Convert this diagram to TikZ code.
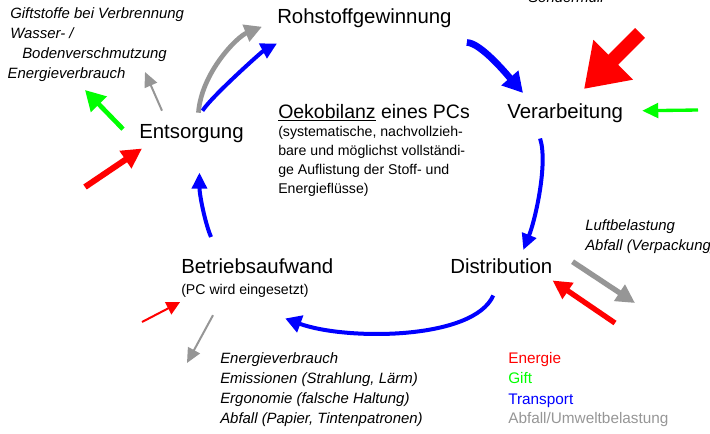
\documentclass[tikz,border=0pt]{standalone}
\usepackage{fontspec}
\setmainfont{Liberation Sans}
\usetikzlibrary{arrows.meta}
\definecolor{ashgray}{RGB}{150,150,150}

\begin{document}
\begin{tikzpicture}[x=0.75pt, y=-0.75pt,
    stage/.style  = {anchor=base west, inner sep=0pt, font=\fontsize{15.3}{18}\selectfont},
    note/.style   = {anchor=base west, inner sep=0pt, align=left, font=\fontsize{10.6}{14.25}\selectfont},
    remark/.style = {anchor=base west, inner sep=0pt, align=left, font=\fontsize{11.2}{15}\selectfont\itshape},
    legend/.style = {anchor=base west, inner sep=0pt, font=\fontsize{11.5}{15}\selectfont},
    fat/.style    = {line width=4pt, -{Triangle[length=14pt,width=14pt]}},
    thin/.style   = {line width=1.5pt, -{Triangle[length=11pt,width=10pt]}}]
    \path[clip] (0,0) rectangle (710,433);
    % stations of the life cycle
    \node (Roh) at (277,23) [stage] {Rohstoffgewinnung};
    \node (Ver) at (507,118) [stage] {Verarbeitung};
    \node (Dis) at (450,273) [stage] {Distribution};
    \node (Bet) at (181,273) [stage] {Betriebsaufwand};
    \node (BetSub) at (181,294) [note] {(PC wird eingesetzt)};
    \node (Ent) at (139,138) [stage] {Entsorgung};
    \node (Oeko) at (278,118) [stage, font=\fontsize{14.6}{18}\selectfont] {\underline{Oekobilanz} eines PCs};
    \node (OekoSub) at (278,193) [note] {(systematische, nachvollzieh-\\bare und möglichst vollständi-\\ge Auflistung der Stoff- und\\Energieflüsse)};
    % remarks (placed at the baseline of their last line)
    \node (EntRem) at (10,78) [remark] {Giftstoffe bei Verbrennung\\Wasser- /\\\hspace*{9pt}Bodenverschmutzung\\\hspace*{-2pt}Energieverbrauch};
    \node (VerRem) at (528,2) [remark] {Sondermüll};
    \node (DisRem) at (585,250) [remark] {Luftbelastung\\Abfall (Verpackung)};
    \node (BetRem) at (220,423) [remark] {Energieverbrauch\\Emissionen (Strahlung, Lärm)\\Ergonomie (falsche Haltung)\\Abfall (Papier, Tintenpatronen)};
    % legend
    \node (lgE) at (508,363) [legend, text=red] {Energie};
    \node (lgG) at (508,383) [legend, text=green] {Gift};
    \node (lgT) at (508,404) [legend, text=blue] {Transport};
    \node (lgA) at (508,423) [legend, text=ashgray] {Abfall/Umweltbelastung};
    % free ends
    \coordinate (redV) at (640,33);
    \coordinate (greenV) at (698,110);
    \coordinate (grayD) at (635,303);
    \coordinate (redD) at (615,323);
    \coordinate (redB) at (142,322);
    \coordinate (grayB) at (187,363);
    \coordinate (redE) at (85,187);
    \coordinate (greenE) at (85,90);
    \coordinate (grayE) at (145,72);
    % transport
    \draw[blue, line width=5pt, -{Triangle[length=15pt,width=16pt]}] ([shift={(15,15)}]Roh.south east) .. controls +(14,0) and +(-14,-16) .. ([shift={(16,-10)}]Ver.north west);
    \draw[blue, line width=3pt, -{Triangle[length=12pt,width=11pt]}] ([shift={(-25,16)}]Ver.south) .. controls +(8,25) and +(12,-30) .. ([shift={(22,-8)}]Dis.north);
    \draw[blue, line width=3pt, -{Triangle[length=12pt,width=13pt]}] ([shift={(-8,22)}]Dis.south) .. controls +(-20,45) and +(60,22) .. ([shift={(28,45)}]Bet.south);
    \draw[blue, line width=3pt, -{Triangle[length=12pt,width=11pt]}] ([shift={(30,-21)}]Bet.north west) .. controls +(-6,-14) and +(0,22) .. ([shift={(8,30)}]Ent.south);
    \draw[blue, line width=3pt, -{Triangle[length=12pt,width=12pt]}] ([shift={(11,-13)}]Ent.north) .. controls +(10,-15) and +(-15,8) .. ([shift={(0,16)}]Roh.south west);
    % waste
    \draw[ashgray, line width=3.5pt, -{Triangle[length=13pt,width=13pt]}] ([shift={(7,-11)}]Ent.north) .. controls +(3,-40) and +(-25,10) .. ([shift={(-15,9)}]Roh.west);
    \draw[ashgray, thin] ([shift={(23,-13)}]Ent.north west) -- (grayE);
    \draw[ashgray, fat] ([shift={(20,-4)}]Dis.east) -- (grayD);
    \draw[ashgray, thin] ([shift={(32,18)}]BetSub.south west) -- (grayB);
    % energy
    \draw[red, line width=10.5pt, -{Triangle[length=31pt,width=40pt]}] (redV) -- ([shift={(77,-14)}]Ver.north west);
    \draw[red, fat] (redD) -- ([shift={(0,7)}]Dis.south east);
    \draw[red, line width=1.5pt, -{Triangle[length=10pt,width=10pt]}] (redB) -- ([shift={(-1,5)}]BetSub.south west);
    \draw[red, line width=4.5pt, -{Triangle[length=15pt,width=15pt]}] (redE) -- ([shift={(3,6)}]Ent.south west);
    % poison
    \draw[green, line width=2.5pt, -{Triangle[length=12pt,width=11pt]}] (greenV) -- ([shift={(19,-2)}]Ver.east);
    \draw[green, line width=3.5pt, -{Triangle[length=15pt,width=16pt]}] ([shift={(-16,-4)}]Ent.west) -- (greenE);
\end{tikzpicture}
\end{document}
